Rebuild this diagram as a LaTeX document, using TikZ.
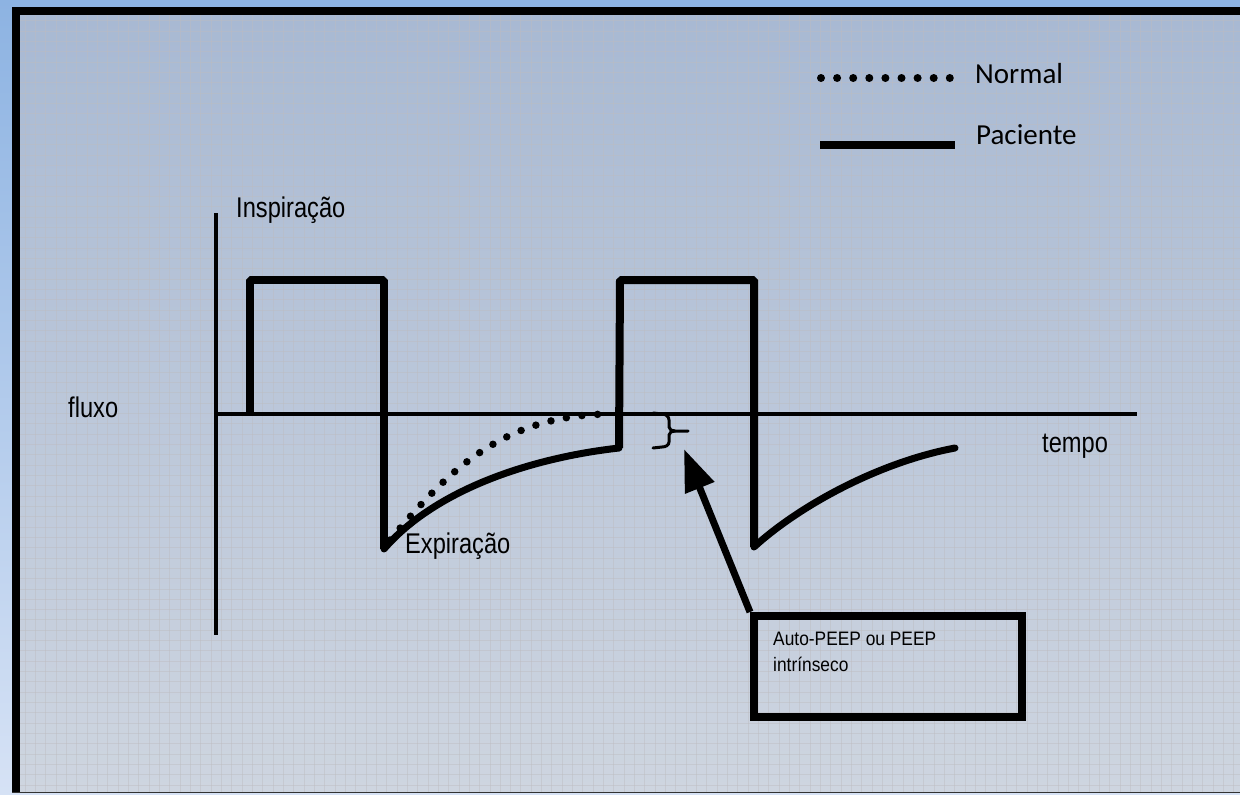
\documentclass[tikz,border=0pt]{standalone}
\usepackage{fontspec}
\setmainfont{Liberation Sans}
\newfontfamily\lblfont[FakeStretch=0.83]{Liberation Sans}
\newfontfamily\boxfont[FakeStretch=0.89]{Liberation Sans}
\newfontfamily\legfont{Carlito}
\usetikzlibrary{arrows.meta}

\definecolor{outerTop}{HTML}{8DB3E2}
\definecolor{outerBot}{HTML}{D6E2F5}
\definecolor{innerTop}{HTML}{A8B9D3}
\definecolor{innerBot}{HTML}{CED5E0}
\definecolor{gridline}{HTML}{BDBCC0}

\tikzset{
  axisline/.style={line width=3.5pt},
  wave/.style={line width=8pt, line join=bevel},
  flowcurve/.style={line width=7pt, line cap=round},
  normalcurve/.style={line width=7.5pt, line cap=round, dash pattern=on 0pt off 15.7pt},
  lbl/.style={font=\lblfont\fontsize{28.5}{34}\selectfont, inner sep=0pt, anchor=base west},
  legtext/.style={font=\legfont\fontsize{29}{34}\selectfont, inner sep=0pt, anchor=base west},
  bracepath/.style={line width=3pt, line cap=round},
  pointer/.style={line width=7pt, -{Triangle[length=42pt,width=30pt]}},
  notebox/.style={draw, line width=8pt, minimum width=268pt, minimum height=100.5pt,
                  anchor=north west, inner sep=0pt},
  notetext/.style={font=\boxfont\fontsize{19.5}{26}\selectfont, inner sep=0pt,
                   anchor=north west, align=left}
}

\begin{document}
\begin{tikzpicture}[x=1pt,y=-1pt]
\useasboundingbox (0,0) rectangle (1240,795);

% page background and framed sheet
\shade[top color=outerTop, bottom color=outerBot] (0,0) rectangle (1240,795);
\shade[top color=innerTop, bottom color=innerBot] (20,15) rectangle (1240,792);
\begin{scope}
  \clip (20,15) rectangle (1240,792);
  \foreach \i in {0,...,118} {
    \draw[gridline, line width=0.7pt, opacity=0.45] ({25+10.33*\i},15) -- ({25+10.33*\i},792);
  }
  \foreach \j in {0,...,75} {
    \draw[gridline, line width=0.7pt, opacity=0.45] (20,{20.7+10.33*\j}) -- (1240,{20.7+10.33*\j});
  }
\end{scope}
\fill[black] (12,7) rectangle (20,793);
\fill[black] (12,7) rectangle (1240,15);
\fill[black!80] (12,791.5) rectangle (1240,793);

% legend
\foreach \k in {0,...,8} {
  \fill ({821+16.1*\k},78) circle (4);
}
\node[legtext] (lnormal) at (975,83) {Normal};
\coordinate (legA) at (820,145);
\coordinate (legB) at (955,145);
\draw[line width=8pt] (legA) -- (legB);
\node[legtext] (lpaciente) at (976,144) {Paciente};

% axes
\coordinate (ytop) at (216,213);
\coordinate (ybot) at (216,635);
\coordinate (orig) at (216,414);
\coordinate (xend) at (1137,414);
\draw[axisline] (ytop) -- (ybot);
\draw[axisline] (orig) -- (xend);

\node[lbl] (insp) at (236,217) {Inspiração};
\node[lbl] (flux) at (68,417) {fluxo};
\node[lbl] (temp) at (1042,452) {tempo};
\node[lbl] (expi) at (405,553) {Expiração};

% patient flow waveform
\coordinate (r1) at (250,414);
\coordinate (t1a) at (250,280);
\coordinate (t1b) at (384,280);
\coordinate (b1) at (384,549);
\coordinate (e1) at (619,448);
\coordinate (t2a) at (620,280);
\coordinate (t2b) at (754,280);
\coordinate (b2) at (754,547);
\coordinate (e2) at (955,448);
\draw[wave] (r1) -- (t1a) -- (t1b) -- (b1);
\draw[flowcurve] (b1) .. controls (435,490) and (530,458) .. (e1);
\draw[wave] (e1) -- (t2a) -- (t2b) -- (b2);
\draw[flowcurve] (b2) .. controls (800,505) and (880,462) .. (e2);

% normal expiratory flow
\coordinate (n0) at (390,540);
\coordinate (n1) at (612,414);
\draw[normalcurve] (n0) .. controls (445,475) and (500,414) .. (n1);

% brace marking the residual flow
\draw[bracepath] (653,413) -- (662,414) to[out=0,in=90] (669,420) -- (669,427)
   to[out=-90,in=180] (675,431) -- (688,431);
\draw[bracepath] (675,431) to[out=180,in=90] (669,435) -- (669,442)
   to[out=-90,in=0] (662,447) -- (653,448);
\coordinate (peep) at (684,449);

% annotation box
\node[notebox] (box) at (750,612) {};
\node[notetext] (boxtxt) at (773,632) {Auto-PEEP ou PEEP\\intrínseco};
\draw[pointer] (box.north west) -- (peep);
\end{tikzpicture}
\end{document}
